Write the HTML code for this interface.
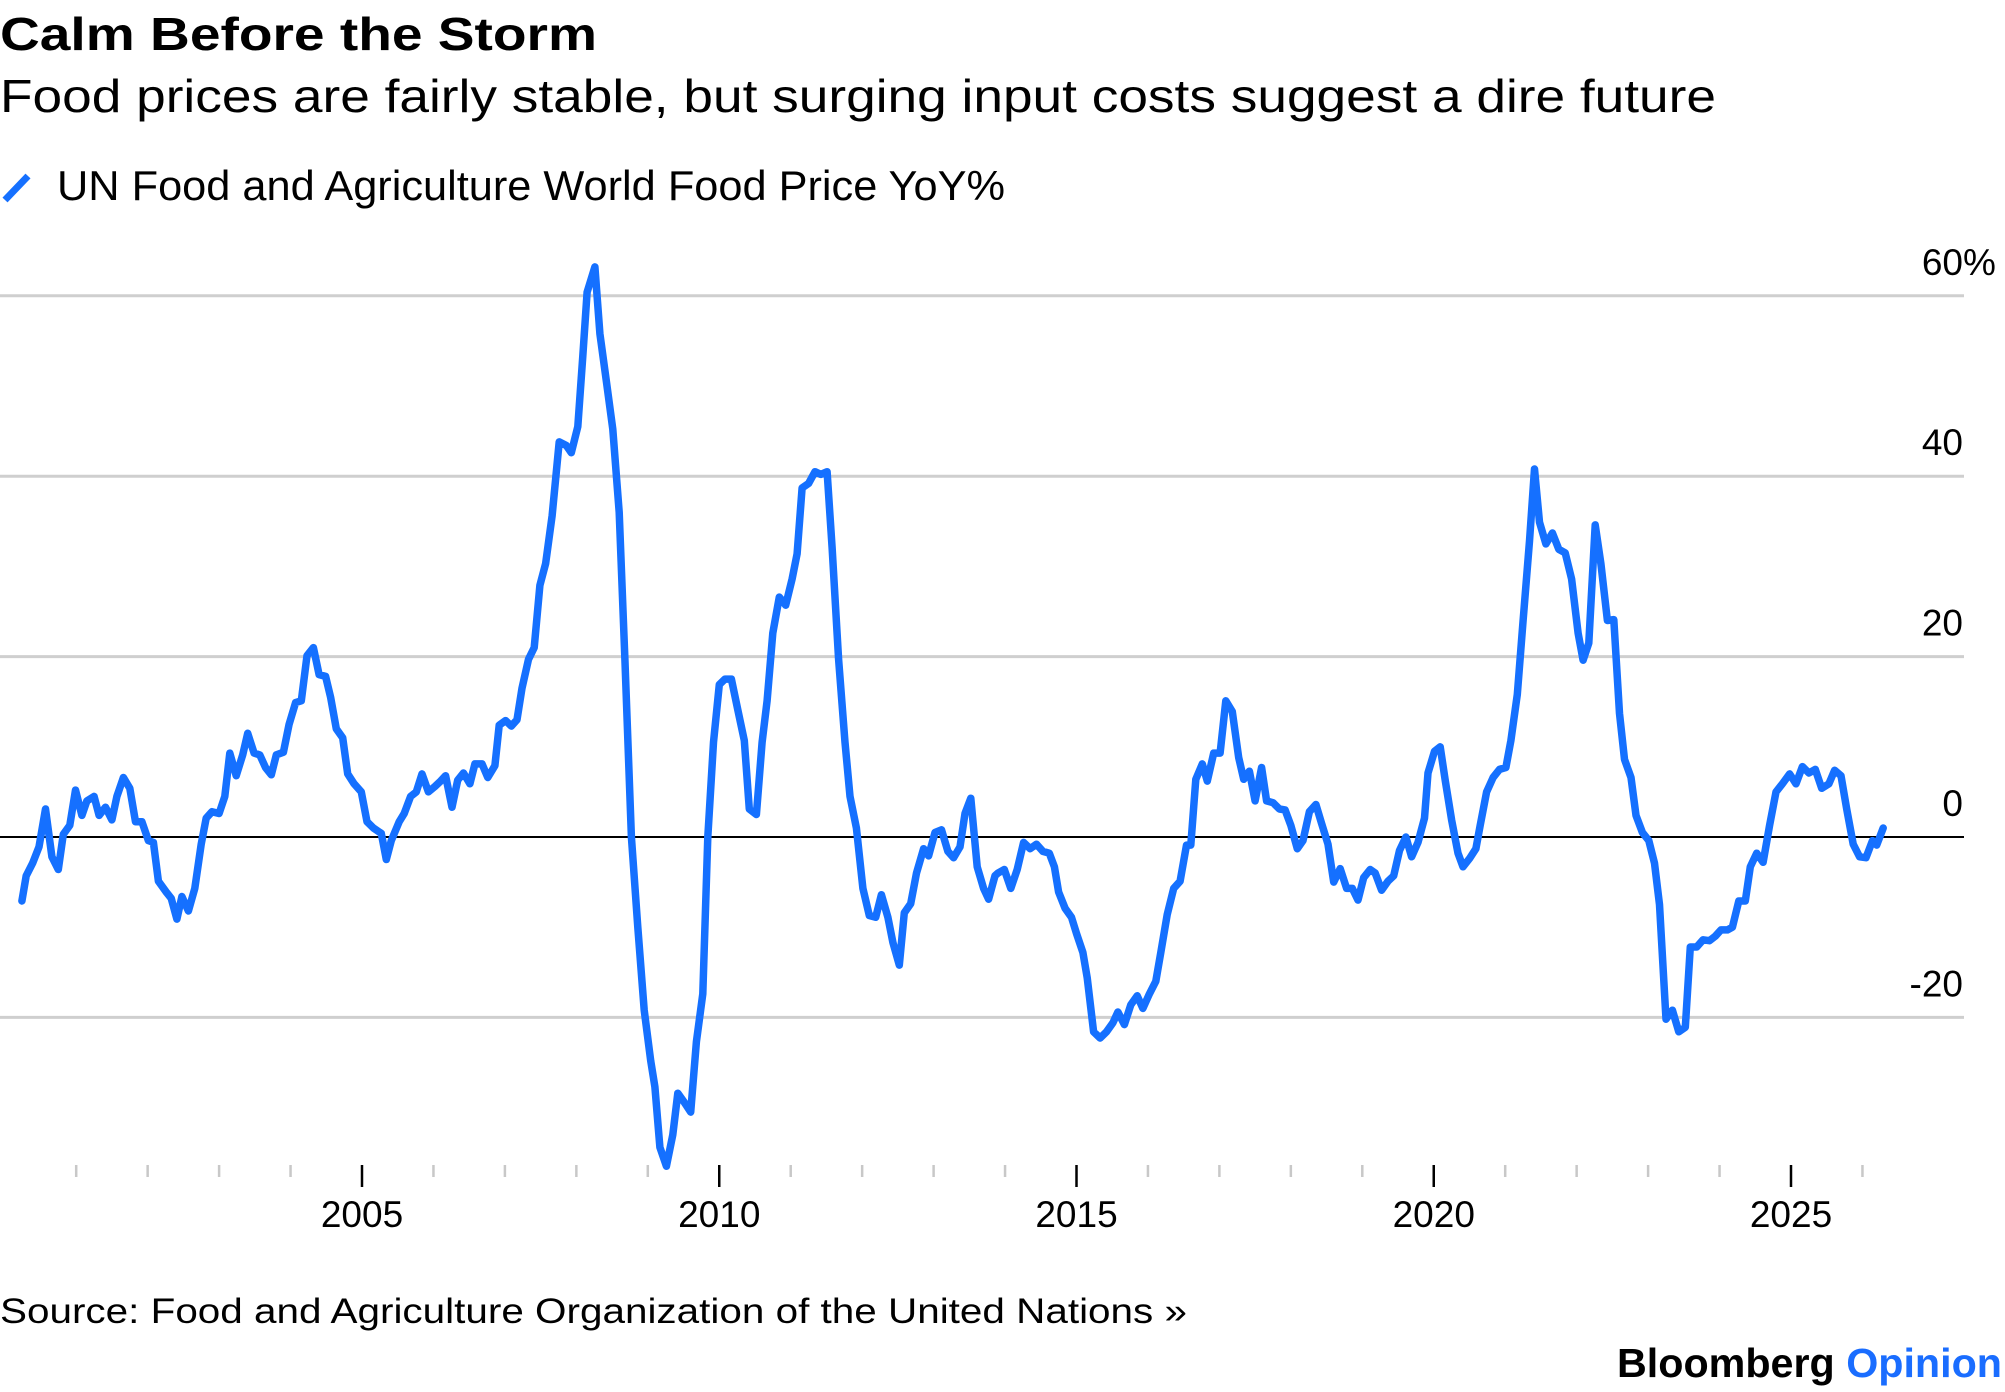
<!DOCTYPE html>
<html><head><meta charset="utf-8"><style>
html,body{margin:0;padding:0;background:#fff;}
svg{display:block;font-family:"Liberation Sans",Arial,sans-serif;}
</style></head><body>
<svg id="chart" width="2005" height="1392" viewBox="0 0 2005 1392">
<text x="0" y="50" font-size="46" font-weight="bold" fill="#000" textLength="597" lengthAdjust="spacingAndGlyphs">Calm Before the Storm</text>
<text x="0" y="112" font-size="46" fill="#000" textLength="1716" lengthAdjust="spacingAndGlyphs">Food prices are fairly stable, but surging input costs suggest a dire future</text>
<line x1="5" y1="200" x2="28" y2="176" stroke="#1570ff" stroke-width="7"/>
<text x="57" y="200" font-size="42" fill="#000" textLength="948" lengthAdjust="spacingAndGlyphs">UN Food and Agriculture World Food Price YoY%</text>
<g id="grid"></g>
<g id="xaxis"></g>
<g id="yaxis"></g>
<path id="series" fill="none" stroke="#1570ff" stroke-width="7.5" stroke-linejoin="round" stroke-linecap="round"/>
<text x="0" y="1323" font-size="35" fill="#000" textLength="1187" lengthAdjust="spacingAndGlyphs">Source: Food and Agriculture Organization of the United Nations »</text>
<text x="1617" y="1377" font-size="41" font-weight="bold" fill="#000" textLength="385" lengthAdjust="spacingAndGlyphs">Bloomberg <tspan fill="#1a6dff">Opinion</tspan></text>
</svg>
<script>
const dates=[2000.24,2000.30,2000.39,2000.48,2000.57,2000.66,2000.75,2000.82,2000.91,2000.99,2001.08,2001.15,2001.25,2001.32,2001.41,2001.50,2001.57,2001.66,2001.75,2001.83,2001.92,2002.01,2002.08,2002.15,2002.26,2002.33,2002.41,2002.48,2002.57,2002.66,2002.75,2002.82,2002.90,2003.00,2003.08,2003.15,2003.24,2003.33,2003.40,2003.49,2003.57,2003.65,2003.73,2003.80,2003.90,2003.98,2004.07,2004.15,2004.23,2004.32,2004.40,2004.49,2004.56,2004.64,2004.73,2004.80,2004.89,2004.99,2005.07,2005.16,2005.27,2005.34,2005.41,2005.52,2005.59,2005.68,2005.76,2005.84,2005.93,2006.02,2006.10,2006.17,2006.26,2006.34,2006.42,2006.51,2006.58,2006.68,2006.76,2006.86,2006.92,2007.01,2007.09,2007.17,2007.24,2007.33,2007.41,2007.49,2007.57,2007.66,2007.76,2007.86,2007.93,2008.02,2008.09,2008.15,2008.26,2008.33,2008.42,2008.51,2008.60,2008.68,2008.77,2008.86,2008.95,2009.04,2009.10,2009.17,2009.26,2009.35,2009.42,2009.51,2009.60,2009.68,2009.77,2009.84,2009.92,2010.00,2010.08,2010.17,2010.26,2010.35,2010.42,2010.52,2010.60,2010.67,2010.75,2010.84,2010.93,2011.02,2011.09,2011.16,2011.25,2011.34,2011.42,2011.51,2011.58,2011.67,2011.76,2011.83,2011.92,2012.01,2012.10,2012.19,2012.27,2012.36,2012.43,2012.52,2012.59,2012.68,2012.76,2012.86,2012.93,2013.02,2013.11,2013.20,2013.28,2013.37,2013.44,2013.52,2013.61,2013.70,2013.77,2013.86,2013.90,2013.99,2014.08,2014.17,2014.26,2014.35,2014.44,2014.53,2014.62,2014.69,2014.75,2014.84,2014.93,2015.00,2015.09,2015.15,2015.24,2015.33,2015.42,2015.51,2015.58,2015.67,2015.76,2015.85,2015.93,2016.02,2016.11,2016.18,2016.27,2016.36,2016.45,2016.54,2016.60,2016.67,2016.76,2016.83,2016.92,2017.01,2017.09,2017.18,2017.27,2017.34,2017.42,2017.50,2017.59,2017.66,2017.75,2017.84,2017.92,2018.00,2018.09,2018.17,2018.26,2018.35,2018.43,2018.52,2018.60,2018.69,2018.78,2018.86,2018.94,2019.02,2019.11,2019.18,2019.27,2019.36,2019.44,2019.52,2019.61,2019.69,2019.78,2019.87,2019.92,2020.01,2020.09,2020.16,2020.25,2020.34,2020.41,2020.50,2020.59,2020.65,2020.74,2020.83,2020.92,2021.01,2021.08,2021.17,2021.25,2021.34,2021.41,2021.48,2021.57,2021.66,2021.75,2021.84,2021.93,2022.02,2022.09,2022.17,2022.26,2022.34,2022.43,2022.52,2022.60,2022.67,2022.76,2022.83,2022.92,2023.01,2023.09,2023.16,2023.25,2023.34,2023.43,2023.52,2023.59,2023.68,2023.77,2023.86,2023.94,2024.02,2024.11,2024.18,2024.27,2024.36,2024.43,2024.52,2024.61,2024.70,2024.79,2024.88,2024.98,2025.07,2025.16,2025.25,2025.34,2025.43,2025.53,2025.61,2025.70,2025.78,2025.87,2025.96,2026.05,2026.14,2026.20,2026.29];
const values=[-7.1,-4.3,-2.9,-1.1,3.1,-2.2,-3.6,0.3,1.3,5.2,2.4,4.0,4.5,2.4,3.3,1.9,4.5,6.6,5.4,1.7,1.7,-0.4,-0.6,-4.9,-6.1,-6.8,-9.1,-6.6,-8.2,-5.7,-0.8,2.1,2.8,2.6,4.5,9.3,6.8,9.1,11.5,9.3,9.1,7.7,6.9,9.1,9.4,12.5,14.9,15.1,20.1,21.0,18.0,17.8,15.5,12.0,11.0,7.0,5.9,5.0,1.7,1.0,0.4,-2.5,-0.4,1.7,2.6,4.5,5.0,7.0,5.0,5.6,6.2,6.8,3.3,6.3,7.1,5.9,8.1,8.1,6.6,7.9,12.4,12.9,12.3,13.0,16.5,19.7,21.0,27.9,30.3,35.6,43.8,43.4,42.6,45.5,53.3,60.4,63.2,55.8,50.5,45.2,36.0,19.7,0,-10.0,-19.2,-24.8,-27.7,-34.4,-36.5,-33.0,-28.4,-29.4,-30.5,-22.7,-17.4,0,10.5,16.9,17.5,17.5,14.1,10.7,3.1,2.5,10.5,15.1,22.6,26.6,25.7,28.6,31.4,38.7,39.2,40.5,40.2,40.5,32.1,19.7,10.5,4.5,1.0,-5.7,-8.7,-8.9,-6.4,-8.9,-11.7,-14.2,-8.4,-7.4,-4.0,-1.3,-2.1,0.5,0.8,-1.6,-2.3,-1.1,2.6,4.3,-3.3,-5.7,-6.9,-4.3,-4.0,-3.6,-5.7,-3.6,-0.6,-1.3,-0.8,-1.6,-1.8,-3.3,-6.1,-7.9,-8.9,-10.7,-12.8,-15.6,-21.6,-22.3,-21.6,-20.6,-19.4,-20.8,-18.6,-17.6,-19.0,-17.4,-16.0,-12.8,-8.6,-5.7,-4.9,-0.9,-0.9,6.4,8.1,6.2,9.3,9.3,15.1,13.9,8.8,6.4,7.3,4.0,7.7,4.0,3.8,3.1,3.0,1.3,-1.3,-0.4,2.8,3.6,1.5,-0.8,-5.0,-3.5,-5.7,-5.7,-7.0,-4.5,-3.6,-4.0,-5.9,-4.9,-4.3,-1.5,0,-2.2,-0.6,2.1,7.1,9.5,10.0,6.3,1.9,-1.8,-3.3,-2.4,-1.3,1.3,5.0,6.6,7.5,7.7,10.7,15.8,24.0,32.8,40.8,34.9,32.5,33.7,31.9,31.5,28.6,22.6,19.6,21.5,34.6,30.3,24.0,24.1,13.7,8.6,6.6,2.4,0.5,-0.4,-2.9,-7.5,-20.2,-19.2,-21.6,-21.1,-12.2,-12.2,-11.4,-11.5,-11.0,-10.3,-10.3,-10.0,-7.1,-7.1,-3.3,-1.8,-2.8,1.3,5.0,5.9,7.0,5.9,7.8,7.1,7.5,5.4,5.9,7.4,6.8,3.1,-0.8,-2.2,-2.3,-0.4,-0.9,1.0];
const yTicks=[60,40,20,0,-20];
const yTickLabels=["60","40","20","0","-20"];
const xMajor=[2005,2010,2015,2020,2025];
const xMajorLabels=["2005","2010","2015","2020","2025"];
const xMinor=[2001,2002,2003,2004,2006,2007,2008,2009,2011,2012,2013,2014,2016,2017,2018,2019,2021,2022,2023,2024,2026];

const NS="http://www.w3.org/2000/svg";
const X0=362, XPY=71.45, Y0=837, YPU=9.02;
function xs(t){return X0+(t-2005)*XPY;}
function ys(v){return Y0-v*YPU;}
function mk(tag,attrs,parent){const e=document.createElementNS(NS,tag);for(const k in attrs)e.setAttribute(k,attrs[k]);parent.appendChild(e);return e;}

const grid=document.getElementById('grid');
const yaxis=document.getElementById('yaxis');
yTicks.forEach((v,i)=>{
  const ln=mk('line',{x1:0,x2:1964,y1:ys(v),y2:ys(v),stroke:v===0?'#000':'#cfcfcf','stroke-width':v===0?2:3},grid);
  
  
  const t=mk('text',{x:1963,y:ys(v)-21,'font-size':37,'text-anchor':'end',fill:'#000'},yaxis);
  t.textContent=yTickLabels[i];
  
  
  if(i===0){
    const p=mk('text',{x:1963,y:ys(v)-21,'font-size':37,fill:'#000'},yaxis);
    p.textContent='%';
    
    
  }
});
const xaxis=document.getElementById('xaxis');
xMinor.forEach(t=>{
  const l=mk('line',{x1:xs(t),x2:xs(t),y1:1165,y2:1177,stroke:'#c8c8c8','stroke-width':2.5},xaxis);
  
  
});
xMajor.forEach((t,i)=>{
  const l=mk('line',{x1:xs(t),x2:xs(t),y1:1165,y2:1187,stroke:'#000','stroke-width':2.5},xaxis);
  
  
  const tx=mk('text',{x:xs(t),y:1227,'font-size':37,'text-anchor':'middle',fill:'#000'},xaxis);
  tx.textContent=xMajorLabels[i];
  
  
});
let d='';
dates.forEach((t,i)=>{d+=(i?'L':'M')+xs(t).toFixed(1)+','+ys(values[i]).toFixed(1);});
document.getElementById('series').setAttribute('d',d);
</script>
</body></html>
